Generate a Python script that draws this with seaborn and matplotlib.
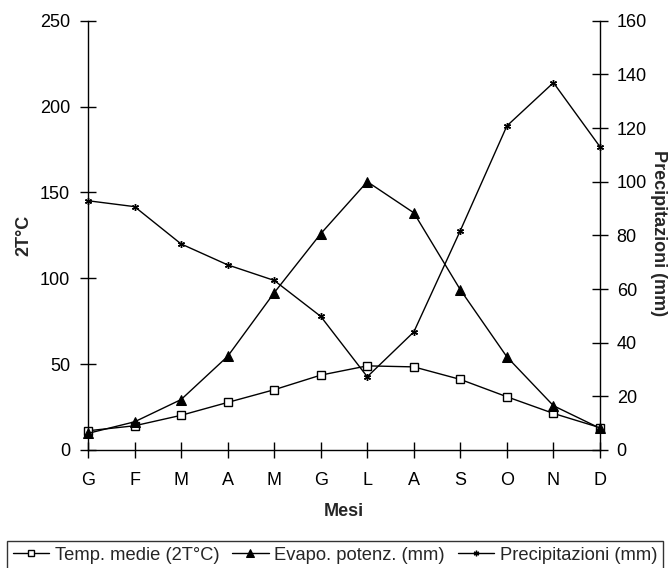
import matplotlib
matplotlib.use("Agg")
import matplotlib.pyplot as plt
import seaborn as sns
import numpy as np
import pandas as pd

months = ["G", "F", "M", "A", "M", "G", "L", "A", "S", "O", "N", "D"]
temp_2t = [11.2, 14.1, 20.2, 27.7, 35.1, 43.6, 49.0, 48.4, 41.1, 31.0, 21.3, 13.0]
evapo = [6.2, 10.5, 18.8, 34.9, 58.6, 80.6, 100.0, 88.4, 59.7, 34.7, 16.5, 8.1]
precip = [92.9, 90.7, 76.8, 69.0, 63.2, 49.8, 27.3, 44.0, 81.8, 120.8, 136.9, 113.0]

left_ticks = [0, 50, 100, 150, 200, 250]
right_ticks = [0, 20, 40, 60, 80, 100, 120, 140, 160]

sns.set_style("white")
plt.rcParams["font.family"] = ["Liberation Sans", "DejaVu Sans"]

W, H = 669, 568
fig = plt.figure(figsize=(W / 100, H / 100), dpi=100)
ax = fig.add_axes([88 / W, 1 - 450 / H, 512 / W, (450 - 20.7) / H])
ax2 = ax.twinx()

df = pd.DataFrame({"x": np.arange(len(months)), "temp": temp_2t,
                   "evapo": evapo, "precip": precip})

lw = 1.0
sns.lineplot(data=df, x="x", y="temp", ax=ax, color="black", lw=lw,
             marker="s", markersize=6, markerfacecolor="white",
             markeredgecolor="black", markeredgewidth=1, clip_on=False,
             label="Temp. medie (2T°C)", legend=False)
sns.lineplot(data=df, x="x", y="evapo", ax=ax2, color="black", lw=lw,
             marker="^", markersize=7, markerfacecolor="black",
             markeredgecolor="black", clip_on=False,
             label="Evapo. potenz. (mm)", legend=False)
sns.lineplot(data=df, x="x", y="precip", ax=ax2, color="black", lw=lw,
             marker=(6, 2, 0), markersize=5, markeredgewidth=1,
             markeredgecolor="black", clip_on=False,
             label="Precipitazioni (mm)", legend=False)

ax.set_xlim(0, len(months) - 1)
ax.set_ylim(0, 250)
ax2.set_ylim(0, 160)
ax.set_xticks(np.arange(len(months)))
ax.set_xticklabels(months)
ax.set_yticks(left_ticks)
ax2.set_yticks(right_ticks)
ax.set_xlabel("")
ax.set_ylabel("")
ax2.set_ylabel("")

for a in (ax, ax2):
    a.patch.set_visible(False)
    a.spines["top"].set_visible(False)
    for s in ("left", "right", "bottom"):
        a.spines[s].set_color("black")
        a.spines[s].set_linewidth(1)
ax.spines["right"].set_visible(False)
ax2.spines["left"].set_visible(False)
ax2.spines["bottom"].set_visible(False)

ax.tick_params(axis="y", direction="inout", length=12, width=1, colors="black",
               labelsize=13, pad=7, left=True)
ax.tick_params(axis="x", direction="inout", length=11, width=1, colors="black",
               labelsize=13, pad=10, bottom=True)
ax2.tick_params(axis="y", direction="inout", length=12, width=1, colors="black",
                labelsize=13, pad=6, right=True)

fig.text(24 / W, 1 - 235 / H, "2T°C", rotation=90, ha="center", va="center",
         fontsize=13, fontweight="bold")
fig.text(659 / W, 1 - 233 / H, "Precipitazioni (mm)", rotation=270,
         ha="center", va="center", fontsize=13, fontweight="bold")
fig.text(344 / W, 1 - 512 / H, "Mesi", ha="center", va="center",
         fontsize=13, fontweight="bold")

h1, l1 = ax.get_legend_handles_labels()
h2, l2 = ax2.get_legend_handles_labels()
leg = fig.legend(h1 + h2, l1 + l2, loc="upper left",
                 bbox_to_anchor=(7 / W, 1 - 541 / H), ncol=3, fontsize=13.2,
                 frameon=True, fancybox=False, edgecolor="black",
                 handlelength=2.0, handletextpad=0.3, columnspacing=0.7,
                 borderpad=0.3, borderaxespad=0, markerscale=0.8)
leg.get_frame().set_linewidth(1)

fig.savefig("out.png", dpi=100)
